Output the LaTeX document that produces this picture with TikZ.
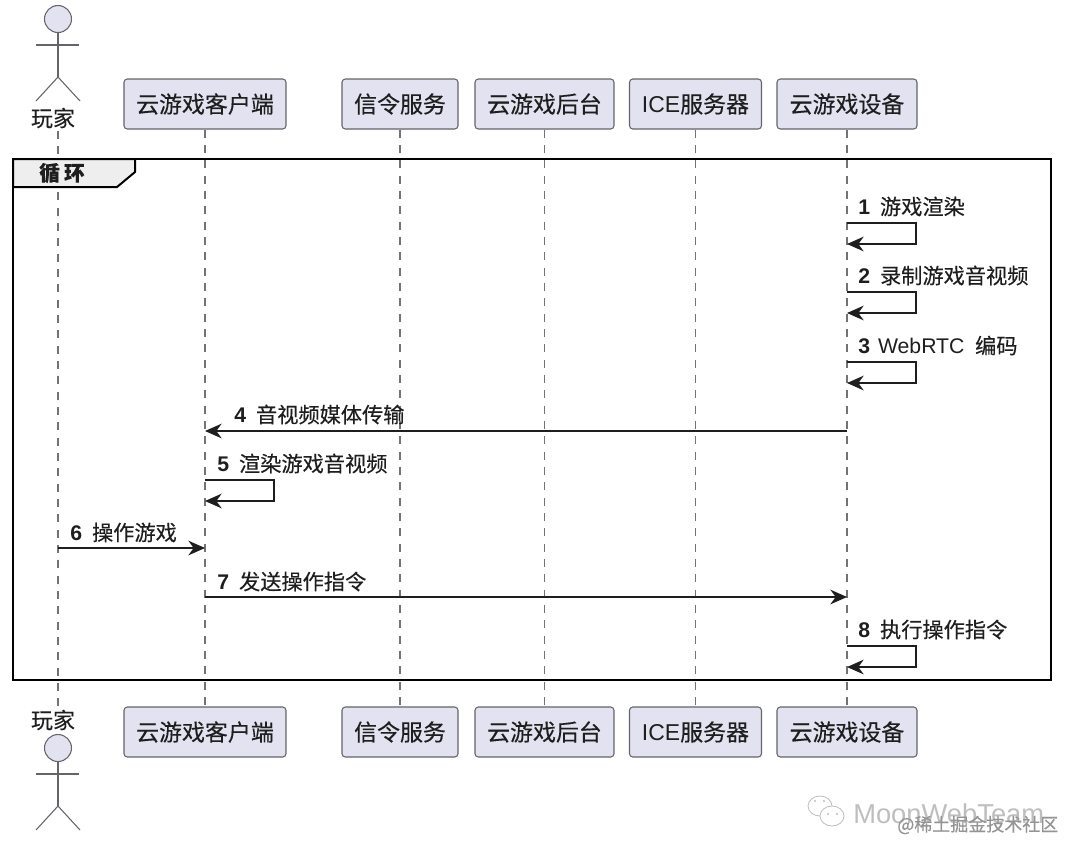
\documentclass[tikz,border=0pt]{standalone}
\usepackage{fontspec}
\setmainfont{Liberation Sans}
\newfontfamily\cjk[RawFeature={embolden=0.3}]{Noto Sans CJK SC}
\usetikzlibrary{arrows.meta,positioning,calc}
\definecolor{kuangzi}{RGB}{226,226,240}
\definecolor{kuangxian}{RGB}{100,100,106}
\definecolor{moxian}{RGB}{30,30,30}
\definecolor{biaoqian}{RGB}{238,238,238}
\definecolor{shuiyin}{RGB}{190,190,190}
\newcommand{\bianhao}[1]{{\rmfamily\bfseries #1}\hspace{7.5pt}}
\tikzset{
  canyu/.style={rectangle,rounded corners=2.5pt,draw=kuangxian,line width=0.8pt,fill=kuangzi,
    align=center,minimum height=37.5pt,inner sep=0pt,font=\fontsize{17.2pt}{20pt}\selectfont\cjk,text=moxian},
  xiaoxi/.style={-{Stealth[length=12.5pt,width=11pt,inset=4pt]},moxian,line width=1.1pt},
  biaoti/.style={anchor=west,inner sep=0pt,font=\fontsize{15.9pt}{18pt}\selectfont\cjk,text=moxian},
  shengming/.style={black!55,line width=0.8pt,dash pattern=on 6pt off 5.5pt},
  renming/.style={inner sep=0pt,font=\fontsize{16.5pt}{20pt}\selectfont\cjk,text=moxian},
  rentou/.style={circle,draw=kuangxian,line width=0.8pt,fill=kuangzi,minimum size=20.25pt,inner sep=0pt},
  renshen/.style={kuangxian,line width=0.8pt},
}
\begin{document}
\begin{tikzpicture}[x=0.75pt,y=-0.75pt]
  \useasboundingbox (0,0) rectangle (1080,858);
  % participants, top row and bottom row
  \foreach \nm/\cx/\kuan/\txt in {ke/205/162/云游戏客户端,xin/400/116/信令服务,hou/544.5/139/云游戏后台,
      ice/695.5/132/{{\rmfamily ICE}服务器},she/847/140/云游戏设备}{
    \node[canyu,minimum width=\kuan*0.75pt] (\nm A) at (\cx,104) {\txt};
    \node[canyu,minimum width=\kuan*0.75pt] (\nm B) at (\cx,732) {\txt};
  }
  % player
  \node[rentou] (touA) at (58,19) {};
  \coordinate (jianA) at (58,45);
  \coordinate (kuaA) at (58,77);
  \draw[renshen] (touA.south) -- (kuaA);
  \draw[renshen] ($(jianA)+(-22,0)$) -- ($(jianA)+(21,0)$);
  \draw[renshen] ($(kuaA)+(-22,24)$) -- (kuaA) -- ($(kuaA)+(22,24)$);
  \node[renming] (renA) at (53,118) {玩家};
  \node[renming] (renB) at (53,720) {玩家};
  \node[rentou] (touB) at (58,748) {};
  \coordinate (jianB) at (58,774);
  \coordinate (kuaB) at (58,806);
  \draw[renshen] (touB.south) -- (kuaB);
  \draw[renshen] ($(jianB)+(-22,0)$) -- ($(jianB)+(21,0)$);
  \draw[renshen] ($(kuaB)+(-22,24)$) -- (kuaB) -- ($(kuaB)+(22,24)$);
  % lifelines
  \coordinate (wanA) at (58,131);
  \coordinate (wanB) at (58,706);
  \draw[shengming] (wanA) -- (wanB);
  \foreach \nm in {ke,xin,hou,ice,she}{
    \draw[shengming] (\nm A.south) -- (\nm B.north);
  }
  % loop frame
  \draw[black,line width=2.2pt] (13,159) rectangle (1051,680);
  \coordinate (tabA) at (13,159);
  \draw[black,line width=1.5pt,fill=biaoqian] (tabA) -- (135,159) -- (135,172) -- (117,187) -- (13,187) -- cycle;
  \node[inner sep=0pt,font=\fontsize{15.5pt}{18pt}\selectfont\cjk\bfseries,text=moxian] (xunhuan) at (62,173) {循\hspace{3pt}环};
  % self messages
  \foreach \n/\cx/\rg/\y in {1/847/69/223,2/847/69/292,3/847/69/362,5/205/69/480,8/847/69/646}{
    \coordinate (zi\n a) at (\cx,\y);
    \coordinate (zi\n b) at (\cx,\y+21);
    \draw[xiaoxi] (zi\n a) -- ++(\rg,0) -- ++(0,21) -- (zi\n b);
  }
  % other messages
  \coordinate (xiao4a) at (847,431);
  \coordinate (xiao4b) at (205,431);
  \coordinate (xiao6a) at (58,548);
  \coordinate (xiao6b) at (205,548);
  \coordinate (xiao7a) at (205,597);
  \coordinate (xiao7b) at (847,597);
  \draw[xiaoxi] (xiao4a) -- (xiao4b);
  \draw[xiaoxi] (xiao6a) -- (xiao6b);
  \draw[xiaoxi] (xiao7a) -- (xiao7b);
  % message labels
  \node[biaoti] (ti1) at (858,206.5) {\bianhao{1}游戏渲染};
  \node[biaoti] (ti2) at (858,275.5) {\bianhao{2}录制游戏音视频};
  \node[biaoti] (ti3) at (858,345.5) {{\rmfamily\bfseries 3}\hspace{6pt}{\rmfamily WebRTC}\hspace{8pt}编码};
  \node[biaoti] (ti4) at (234,414.5) {\bianhao{4}音视频媒体传输};
  \node[biaoti] (ti5) at (217,463.5) {\bianhao{5}渲染游戏音视频};
  \node[biaoti] (ti6) at (70,532.5) {\bianhao{6}操作游戏};
  \node[biaoti] (ti7) at (217,581.5) {\bianhao{7}发送操作指令};
  \node[biaoti] (ti8) at (858,629.5) {\bianhao{8}执行操作指令};
  % watermark
  \draw[shuiyin,line width=0.6pt] (820,806) ellipse (12 and 10);
  \draw[shuiyin,line width=0.6pt,fill=white] (832,816) ellipse (12 and 10);
  \foreach \dx/\dy in {815/801,824/801,828/814,837/814}{
    \fill[shuiyin] (\dx,\dy) circle (1.2);
  }
  \node[inner sep=0pt,anchor=west,font=\fontsize{20.5pt}{24pt}\selectfont,text=shuiyin] (shui1) at (853,814) {MoonWebTeam};
  \node[inner sep=0pt,anchor=west,font=\fontsize{13.5pt}{16pt}\selectfont\cjk,text=black!42] (shui2) at (897,825) {@稀土掘金技术社区};
\end{tikzpicture}
\end{document}
